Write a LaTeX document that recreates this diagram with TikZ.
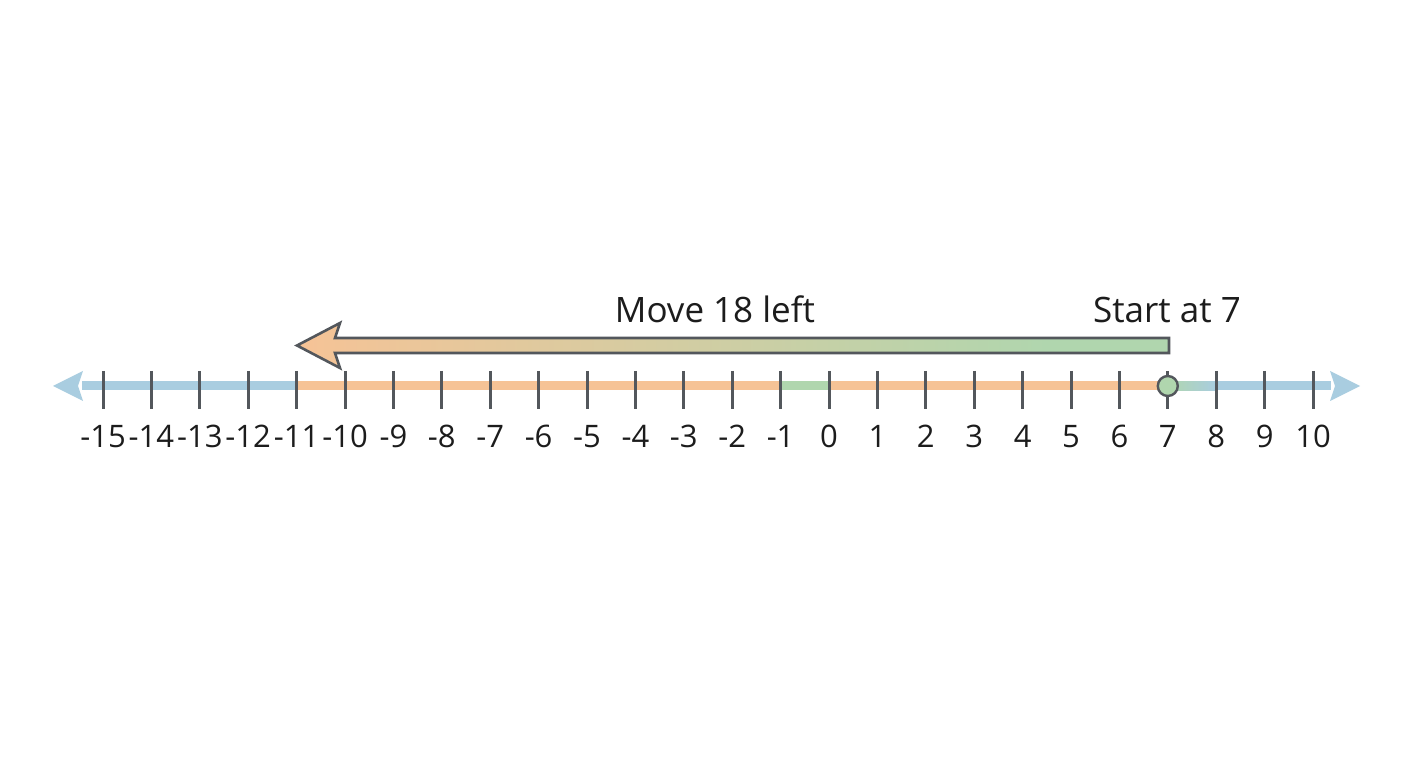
\documentclass[tikz,border=0pt]{standalone}
\usepackage{fontspec}
\setmainfont{Open Sans}
\definecolor{axblue}{HTML}{A9CDE0}
\definecolor{axorange}{HTML}{F6C396}
\definecolor{axgreen}{HTML}{B0D6AE}
\definecolor{inkgray}{HTML}{53575C}
\definecolor{txt}{HTML}{1C1C1C}
\pgfdeclarehorizontalshading{moveshade}{100bp}{color(0bp)=(axorange); color(25bp)=(axorange); color(68bp)=(axgreen); color(100bp)=(axgreen)}
\begin{document}
\begin{tikzpicture}[x=1pt,y=1pt,
  tickline/.style={draw=inkgray,line width=3pt},
  numlabel/.style={font=\fontsize{31}{34}\selectfont,text=txt,inner sep=0pt,anchor=base},
  titlelabel/.style={font=\fontsize{35}{40}\selectfont,text=txt,inner sep=0pt,anchor=base},
  seg/.style={line width=9pt}]
\useasboundingbox (0,0) rectangle (1408,768);
\fill[white] (0,0) rectangle (1408,768);
\def\ay{382}
% named points along the axis
\foreach \n in {-15,...,10}{
  \coordinate (p\n) at ({829+48.4*\n},\ay);
}
\coordinate (lend) at (82,\ay);
\coordinate (rend) at (1331,\ay);
% coloured segments of the axis
\draw[seg,axblue] (lend) -- (p-11);
\draw[seg,axorange] (p-11) -- (p-1);
\draw[seg,axgreen] (p-1) -- (p0);
\draw[seg,axorange] (p0) -- (p7);
\shade[left color=axgreen,right color=axblue] ([yshift=-4.5pt]p7) rectangle ([yshift=4.5pt]p8);
\draw[seg,axblue] (p8) -- (rend);
% axis arrow heads
\fill[axblue] (53,\ay) -- (83,\ay+15) -- (78,\ay) -- (83,\ay-15) -- cycle;
\fill[axblue] (1360,\ay) -- (1330,\ay+15) -- (1335,\ay) -- (1330,\ay-15) -- cycle;
% ticks and labels
\foreach \n in {-15,...,10}{
  \draw[tickline] ([yshift=15pt]p\n) -- ([yshift=-23pt]p\n);
  \node[numlabel] (l\n) at ([yshift=-62pt]p\n) {\n};
}
% start point
\node[circle,draw=inkgray,line width=2.4pt,fill=axgreen,minimum size=20pt,inner sep=0pt] (start) at (p7) {};
% big move arrow
\coordinate (tip) at (297,422.5);
\coordinate (tail) at (1169,422.5);
\shade[shading=moveshade,draw=inkgray,line width=2.6pt,line join=miter]
  (tip) -- (340,445) -- (335,430) -- (tail |- 0,430) -- (tail |- 0,415) -- (335,415) -- (340,400) -- cycle;
% texts
\node[titlelabel] (movetxt) at (715,445) {Move 18 left};
\node[titlelabel] (starttxt) at (1167,445) {Start at 7};
\end{tikzpicture}
\end{document}
